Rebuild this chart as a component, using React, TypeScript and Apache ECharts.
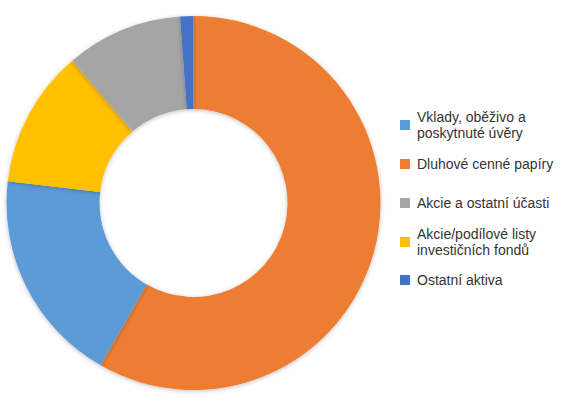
import { useEffect, useRef } from "react";
import * as echarts from "echarts";

// legend order (as in the reference)
const legendNames = [
  "Vklady, oběživo a poskytnuté úvěry",
  "Dluhové cenné papíry",
  "Akcie a ostatní účasti",
  "Akcie/podílové listy investičních fondů",
  "Ostatní aktiva",
];
const legendLabels = [
  "Vklady, oběživo a\nposkytnuté úvěry",
  "Dluhové cenné papíry",
  "Akcie a ostatní účasti",
  "Akcie/podílové listy\ninvestičních fondů",
  "Ostatní aktiva",
];
const legendCenters = [125, 164, 203, 242, 280];

// slice order clockwise from 12 o'clock
const sliceNames = [
  "Dluhové cenné papíry",
  "Vklady, oběživo a poskytnuté úvěry",
  "Akcie/podílové listy investičních fondů",
  "Akcie a ostatní účasti",
  "Ostatní aktiva",
];
const sliceValues = [58.3, 18.6, 11.9, 10.1, 1.15];
const sliceColors = ["#ED7D31", "#5B9BD5", "#FFC000", "#A5A5A5", "#4472C4"];

const App = () => {
  const chartRef = useRef<HTMLDivElement>(null);

  useEffect(() => {
    if (!chartRef.current) return;
    const chart = echarts.init(chartRef.current, undefined, { renderer: "svg" });

    const lineHeight = 16;
    const legends = legendNames.map((name, i) => {
      const lines = legendLabels[i].split("\n").length;
      return {
        orient: "vertical",
        left: 400,
        top: legendCenters[i] - (lines * lineHeight) / 2,
        padding: 0,
        data: [name],
        icon: "rect",
        itemWidth: 10,
        itemHeight: 10,
        itemGap: 0,
        selectedMode: false,
        formatter: () => legendLabels[i],
        textStyle: {
          fontFamily: "Liberation Sans",
          fontSize: 14,
          color: "#333333",
          lineHeight,
          padding: [0, 0, 0, 2],
        },
      };
    });

    chart.setOption({
      animation: false,
      backgroundColor: "#ffffff",
      legend: legends,
      series: [
        {
          type: "pie",
          center: [193.5, 203],
          radius: [94, 187],
          startAngle: 90,
          clockwise: true,
          label: { show: false },
          labelLine: { show: false },
          silent: true,
          itemStyle: {
            shadowBlur: 4,
            shadowColor: "rgba(0,0,0,0.25)",
            shadowOffsetY: 1,
          },
          data: sliceNames.map((name, i) => ({
            name,
            value: sliceValues[i],
            itemStyle: { color: sliceColors[i] },
          })),
        },
      ],
    });

    return () => {
      chart.dispose();
    };
  }, []);

  return (
    <div
      ref={chartRef}
      style={{ position: "fixed", left: 0, top: 0, width: 565, height: 405 }}
    />
  );
};

export default App;
